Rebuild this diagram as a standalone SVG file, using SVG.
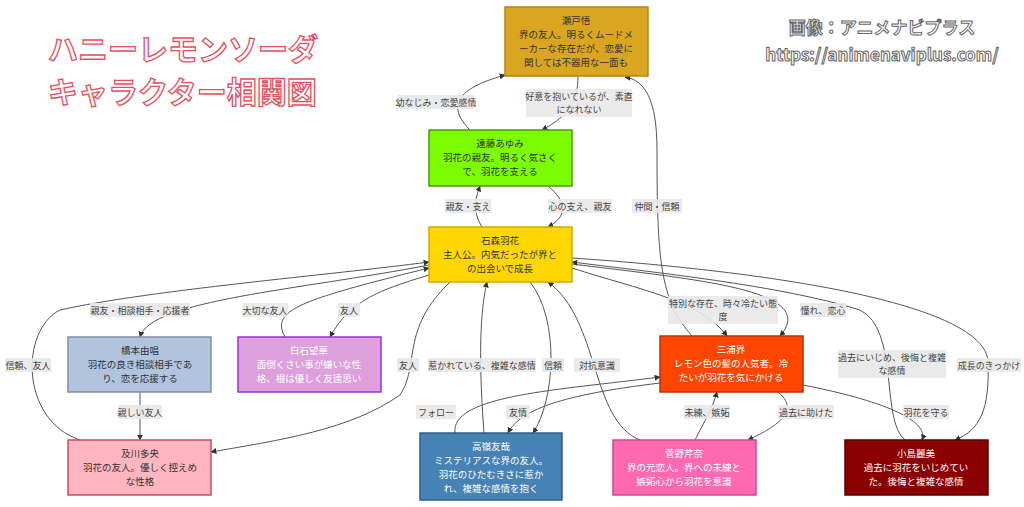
<svg xmlns="http://www.w3.org/2000/svg" width="1024" height="507" viewBox="0 0 1024 507">
<defs>
<marker id="ah" viewBox="0 0 10 10" refX="9" refY="5" markerWidth="6" markerHeight="6" orient="auto-start-reverse"><path d="M0,0 L10,5 L0,10 z" fill="#333"/></marker>
</defs>
<style>
text{font-family:"Noto Sans CJK JP","Noto Sans",sans-serif;}
.n{stroke-width:1.5;}
.t{font-size:9.5px;text-anchor:middle;fill:#333;}
.w{fill:#fff;}
.e{fill:none;stroke:#555;stroke-width:1;marker-end:url(#ah);}
.lb{fill:#e8e8e8;opacity:0.9;}
.l{font-size:9px;text-anchor:middle;fill:#444;}
.title{font-size:30px;font-weight:bold;fill:#fff;stroke:#e8505f;stroke-width:1.3;}
.wm{font-size:17px;font-weight:bold;fill:#fff;stroke:#666;stroke-width:1;text-anchor:middle;}
</style>
<rect width="1024" height="507" fill="#fff"/>
<text class="title" x="48" y="60">ハニーレモンソーダ</text>
<text class="title" x="48" y="103">キャラクター相関図</text>
<text class="wm" x="882" y="34">画像：アニメナビプラス</text>
<text class="wm" x="882" y="61">https://animenaviplus.com/</text>

<g id="edges">
<path class="e" d="M470,130 C440,100 470,85 505,75"/>
<path class="e" d="M578,76 C578,100 570,115 542,130"/>
<path class="e" d="M482,227 C472,210 475,200 480,186"/>
<path class="e" d="M548,186 C565,200 570,215 548,227"/>
<path class="e" d="M692,336 C660,300 657,260 657,150 C657,100 645,80 625,77"/>
<path class="e" d="M429,265 C300,290 150,300 140,337"/>
<path class="e" d="M80,440 C20,420 20,330 60,310 C150,290 330,275 429,262"/>
<path class="e" d="M285,337 C270,310 300,300 429,268"/>
<path class="e" d="M429,275 C380,290 350,300 330,337"/>
<path class="e" d="M450,282 C400,330 420,365 400,395 C350,430 280,440 211,452"/>
<path class="e" d="M484,433 C480,380 478,320 487,282"/>
<path class="e" d="M530,282 C560,320 555,400 533,433"/>
<path class="e" d="M640,440 C590,420 600,320 548,282"/>
<path class="e" d="M572,268 C640,290 700,300 727,336"/>
<path class="e" d="M572,264 C700,280 820,290 780,336"/>
<path class="e" d="M905,440 C880,420 900,330 860,310 C780,285 650,272 572,262"/>
<path class="e" d="M572,258 C750,270 980,300 988,360 C990,410 980,430 955,440"/>
<path class="e" d="M803,385 C880,400 930,420 922,440"/>
<path class="e" d="M455,433 C450,395 560,390 660,377"/>
<path class="e" d="M660,383 C560,395 520,410 508,433"/>
<path class="e" d="M695,440 C705,420 712,410 717,392"/>
<path class="e" d="M778,392 C800,410 780,425 748,440"/>
<path class="e" d="M140,392 L140,440"/>
</g>
<g id="edge-labels">
<rect class="lb" x="398" y="95" width="76" height="14"/><text class="l" x="436" y="106">幼なじみ・恋愛感情</text>
<rect class="lb" x="526" y="89" width="106" height="28"/><text class="l" x="579" y="100">好意を抱いているが、素直</text><text class="l" x="579" y="113">になれない</text>
<rect class="lb" x="445" y="199" width="46" height="14"/><text class="l" x="468" y="210">親友・支え</text>
<rect class="lb" x="548" y="199" width="64" height="14"/><text class="l" x="580" y="210">心の支え、親友</text>
<rect class="lb" x="632" y="199" width="50" height="14"/><text class="l" x="657" y="210">仲間・信頼</text>
<rect class="lb" x="90" y="303" width="100" height="14"/><text class="l" x="140" y="314">親友・相談相手・応援者</text>
<rect class="lb" x="242" y="303" width="46" height="14"/><text class="l" x="265" y="314">大切な友人</text>
<rect class="lb" x="338" y="303" width="22" height="14"/><text class="l" x="349" y="314">友人</text>
<rect class="lb" x="5" y="358" width="46" height="14"/><text class="l" x="28" y="369">信頼、友人</text>
<rect class="lb" x="118" y="405" width="44" height="14"/><text class="l" x="140" y="416">親しい友人</text>
<rect class="lb" x="397" y="358" width="22" height="14"/><text class="l" x="408" y="369">友人</text>
<rect class="lb" x="428" y="358" width="108" height="14"/><text class="l" x="482" y="369">惹かれている、複雑な感情</text>
<rect class="lb" x="542" y="358" width="22" height="14"/><text class="l" x="553" y="369">信頼</text>
<rect class="lb" x="574" y="358" width="46" height="14"/><text class="l" x="597" y="369">対抗意識</text>
<rect class="lb" x="668" y="296" width="110" height="28"/><text class="l" x="723" y="307">特別な存在、時々冷たい態</text><text class="l" x="723" y="320">度</text>
<rect class="lb" x="800" y="303" width="46" height="14"/><text class="l" x="823" y="314">憧れ、恋心</text>
<rect class="lb" x="838" y="350" width="108" height="28"/><text class="l" x="892" y="361">過去にいじめ、後悔と複雑</text><text class="l" x="892" y="374">な感情</text>
<rect class="lb" x="957" y="358" width="64" height="14"/><text class="l" x="989" y="369">成長のきっかけ</text>
<rect class="lb" x="416" y="405" width="40" height="14"/><text class="l" x="436" y="416">フォロー</text>
<rect class="lb" x="506" y="405" width="24" height="14"/><text class="l" x="518" y="416">友情</text>
<rect class="lb" x="684" y="405" width="46" height="14"/><text class="l" x="707" y="416">未練、嫉妬</text>
<rect class="lb" x="778" y="405" width="56" height="14"/><text class="l" x="806" y="416">過去に助けた</text>
<rect class="lb" x="903" y="405" width="46" height="14"/><text class="l" x="926" y="416">羽花を守る</text>
</g>

<g id="seto"><rect class="n" x="505" y="7" width="143" height="69" fill="#DAA520" stroke="#b8860b"/><text class="t" x="576" y="24">瀬戸悟</text><text class="t" x="576" y="38">界の友人。明るくムードメ</text><text class="t" x="576" y="52">ーカーな存在だが、恋愛に</text><text class="t" x="576" y="66">関しては不器用な一面も</text></g>
<g id="ayumi"><rect class="n" x="429" y="130" width="143" height="56" fill="#7CFC00" stroke="#4a9a00"/><text class="t" x="500" y="147">遠藤あゆみ</text><text class="t" x="500" y="161">羽花の親友。明るく気さく</text><text class="t" x="500" y="175">で、羽花を支える</text></g>
<g id="uka"><rect class="n" x="429" y="227" width="143" height="55" fill="#FFD700" stroke="#d4a800"/><text class="t" x="500" y="244">石森羽花</text><text class="t" x="500" y="258">主人公。内気だったが界と</text><text class="t" x="500" y="272">の出会いで成長</text></g>
<g id="hashimoto"><rect class="n" x="68" y="337" width="143" height="55" fill="#B0C4DE" stroke="#8090a8"/><text class="t" x="140" y="354">橋本由唱</text><text class="t" x="140" y="368">羽花の良き相談相手であ</text><text class="t" x="140" y="382">り、恋を応援する</text></g>
<g id="shiraishi"><rect class="n" x="238" y="337" width="143" height="55" fill="#DDA0DD" stroke="#9932CC"/><text class="t w" x="309" y="354">白石望華</text><text class="t w" x="309" y="368">面倒くさい事が嫌いな性</text><text class="t w" x="309" y="382">格、根は優しく友達思い</text></g>
<g id="oikawa"><rect class="n" x="68" y="440" width="143" height="55" fill="#FFB6C1" stroke="#d04a60"/><text class="t" x="140" y="457">及川多央</text><text class="t" x="140" y="471">羽花の友人。優しく控えめ</text><text class="t" x="140" y="485">な性格</text></g>
<g id="takamine"><rect class="n" x="420" y="433" width="142" height="67" fill="#4682B4" stroke="#2f5f8a"/><text class="t w" x="491" y="450">高嶺友哉</text><text class="t w" x="491" y="464">ミステリアスな界の友人。</text><text class="t w" x="491" y="478">羽花のひたむきさに惹か</text><text class="t w" x="491" y="492">れ、複雑な感情を抱く</text></g>
<g id="kanno"><rect class="n" x="613" y="440" width="143" height="55" fill="#FF69B4" stroke="#d04a90"/><text class="t w" x="684" y="457">菅野芹奈</text><text class="t w" x="684" y="471">界の元恋人。界への未練と</text><text class="t w" x="684" y="485">嫉妬心から羽花を意識</text></g>
<g id="miura"><rect class="n" x="660" y="336" width="143" height="56" fill="#FF4500" stroke="#c03000"/><text class="t w" x="731" y="353">三浦界</text><text class="t w" x="731" y="367">レモン色の髪の人気者。冷</text><text class="t w" x="731" y="381">たいが羽花を気にかける</text></g>
<g id="kojima"><rect class="n" x="845" y="440" width="143" height="55" fill="#8B0000" stroke="#5a0000"/><text class="t w" x="916" y="457">小島麗美</text><text class="t w" x="916" y="471">過去に羽花をいじめてい</text><text class="t w" x="916" y="485">た。後悔と複雑な感情</text></g>
</svg>
